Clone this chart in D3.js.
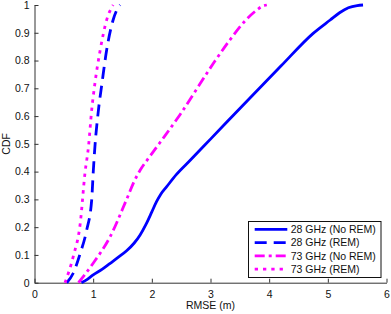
<!DOCTYPE html>
<html><head><meta charset="utf-8">
<script src="https://cdn.jsdelivr.net/npm/d3@7"></script>
<style>body{margin:0;background:#fff}svg{display:block}text{font-family:"Liberation Sans",Arial,sans-serif}</style>
</head><body><svg id="c" width="391" height="314"></svg>
<script>
const seriesNames = ["28 GHz (No REM)", "28 GHz (REM)", "73 GHz (No REM)", "73 GHz (REM)"];
const rmse28NoREM = [0.80,0.9,1.0,1.15,1.29,1.43,1.57,1.70,1.80,1.90,2.0,2.08,2.15,2.25,2.42,2.65,3.0,3.64,4.2,4.75,5.04,5.2,5.35,5.5,5.6];
const cdf28NoREM  = [0,0.012,0.028,0.048,0.07,0.092,0.115,0.143,0.172,0.21,0.255,0.292,0.318,0.345,0.39,0.44,0.517,0.658,0.78,0.898,0.946,0.972,0.99,0.998,1.0];
const rmse28REM = [0.55,0.66,0.78,0.89,0.975,1.0,1.03,1.09,1.15,1.23,1.34,1.41,1.46];
const cdf28REM  = [0,0.034,0.106,0.19,0.298,0.394,0.49,0.622,0.718,0.838,0.946,0.985,1.0];
const rmse73NoREM = [0.75,1.0,1.29,1.57,1.70,1.80,1.95,2.14,2.48,3.05,3.33,3.6,3.79,3.88,3.96];
const cdf73NoREM  = [0,0.07,0.166,0.30,0.365,0.405,0.45,0.505,0.605,0.79,0.874,0.945,0.982,0.995,1.0];
const rmse73REM = [0.52,0.66,0.78,0.86,0.92,0.975,1.03,1.12,1.23,1.30,1.34];
const cdf73REM  = [0,0.094,0.214,0.394,0.49,0.622,0.718,0.838,0.946,0.985,1.0];
const xTicks = [0,1,2,3,4,5,6];
const yTicks = [0,0.1,0.2,0.3,0.4,0.5,0.6,0.7,0.8,0.9,1];
const xLabel = "RMSE (m)", yLabel = "CDF";

const styles = [
  {color:"#0000ff", dash:null},
  {color:"#0000ff", dash:"12,7"},
  {color:"#ff00ff", dash:"10,4,3,4"},
  {color:"#ff00ff", dash:"3.3,5"}
];
const xs = [rmse28NoREM, rmse28REM, rmse73NoREM, rmse73REM];
const ys = [cdf28NoREM, cdf28REM, cdf73NoREM, cdf73REM];

const svg = d3.select("#c");
const L=34.5, R=386.5, T=5, B=282.7;
const x = d3.scaleLinear().domain([0,6]).range([L,R]);
const y = d3.scaleLinear().domain([0,1]).range([B,T]);

const gx = svg.append("g").attr("transform",`translate(0,${B})`)
  .call(d3.axisBottom(x).tickValues(xTicks).tickFormat(d3.format("d")).tickSizeInner(-4).tickSizeOuter(0).tickPadding(8));
const gy = svg.append("g").attr("transform",`translate(${L},0)`)
  .call(d3.axisLeft(y).tickValues(yTicks).tickFormat(d=>d===0?"0":d===1?"1":d3.format(".1f")(d)).tickSizeInner(-4).tickSizeOuter(0).tickPadding(5));
[gx,gy].forEach(g=>{
  g.selectAll("path").attr("stroke","#333").attr("stroke-width",1);
  g.selectAll("line").attr("stroke","#333");
  g.selectAll("text").attr("font-size","10.5px").attr("fill","#111").attr("font-family",'"Liberation Sans",Arial,sans-serif');
});

svg.append("text").attr("x",(L+R)/2).attr("y",309).attr("text-anchor","middle")
  .attr("font-size","10.5px").attr("fill","#111").text(xLabel);
svg.append("text").attr("transform",`translate(9.5,${(T+B)/2}) rotate(-90)`).attr("text-anchor","middle")
  .attr("font-size","10.5px").attr("fill","#111").text(yLabel);

const line = d3.line().x(d=>x(d[0])).y(d=>y(d[1])).curve(d3.curveMonotoneX);
xs.forEach((arr,i)=>{
  const pts = arr.map((v,j)=>[v, ys[i][j]]);
  svg.append("path").attr("d",line(pts)).attr("fill","none")
    .attr("stroke",styles[i].color).attr("stroke-width",2.8)
    .attr("stroke-dasharray",styles[i].dash);
});

// legend
const lg = svg.append("g");
lg.append("rect").attr("x",248.5).attr("y",221.5).attr("width",132.5).attr("height",56)
  .attr("fill","#fff").attr("stroke","#111").attr("stroke-width",1);
seriesNames.forEach((n,i)=>{
  const yy = 229.3 + i*13.3;
  lg.append("line").attr("x1",254.7).attr("x2",287.3).attr("y1",yy).attr("y2",yy)
    .attr("stroke",styles[i].color).attr("stroke-width",2.8).attr("stroke-dasharray",styles[i].dash);
  lg.append("text").attr("x",290.7).attr("y",yy+3.7).attr("font-size","10.5px").attr("fill","#111").text(n);
});
</script></body></html>
